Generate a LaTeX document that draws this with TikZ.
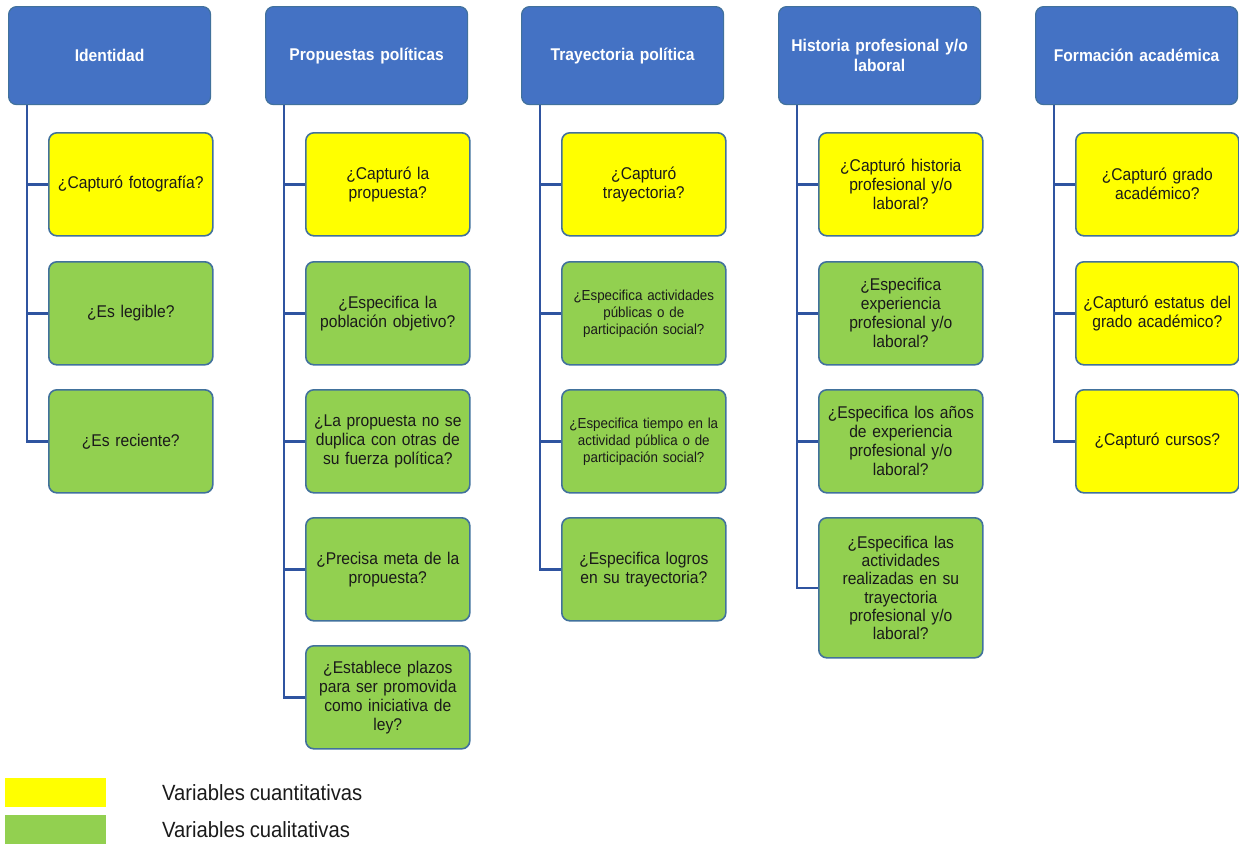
\documentclass[tikz,border=0pt]{standalone}
\usepackage{fontspec}
\setmainfont{Liberation Sans}[FakeStretch=0.92, WordSpace=0.85]
\definecolor{headfill}{HTML}{4472C4}
\definecolor{boxborder}{HTML}{41719C}
\definecolor{trunkcol}{HTML}{2F54A0}
\definecolor{qyellow}{HTML}{FFFF00}
\definecolor{qgreen}{HTML}{92D050}
\definecolor{qtext}{HTML}{1A1A1A}
\newcommand{\hfnt}{\fontsize{17}{20}\bfseries\selectfont}
\newcommand{\qfnt}{\fontsize{17}{19}\selectfont}
\newcommand{\sfnt}{\fontsize{14.5}{17}\selectfont}
\begin{document}
\begin{tikzpicture}[x=1pt,y=-1pt,
  head/.style={draw=boxborder, fill=headfill, rounded corners=8pt, line width=1.2pt,
    minimum width=202pt, minimum height=98pt, text width=196pt, align=center,
    text=white, font=\hfnt, anchor=north west, inner sep=0pt},
  qbox/.style={draw=boxborder, rounded corners=8pt, line width=1.6pt,
    minimum width=164pt, minimum height=103pt, text width=162pt, align=center,
    text=qtext, font=\qfnt, anchor=north west, inner sep=0pt},
  qy/.style={qbox, fill=qyellow},
  qg/.style={qbox, fill=qgreen},
  trunk/.style={draw=trunkcol, line width=2.4pt},
  legtext/.style={anchor=west, font=\fontsize{22}{24}\selectfont, text=qtext, inner sep=0pt}]
\useasboundingbox (0,0) rectangle (1239,844);

% headers
\node[head] (h1) at (8,6) {Identidad};
\node[head] (h2) at (265,6) {Propuestas políticas};
\node[head] (h3) at (521,6) {Trayectoria política};
\node[head] (h4) at (778,6) {Historia profesional y/o\\laboral};
\node[head] (h5) at (1035,6) {Formación académica};

% column 1
\node[qy] (c11) at (48,132) {¿Capturó fotografía?};
\node[qg] (c12) at (48,261) {¿Es legible?};
\node[qg] (c13) at (48,389) {¿Es reciente?};

% column 2
\node[qy] (c21) at (305,132) {¿Capturó la\\propuesta?};
\node[qg] (c22) at (305,261) {¿Especifica la\\población objetivo?};
\node[qg] (c23) at (305,389) {¿La propuesta no se\\duplica con otras de\\su fuerza política?};
\node[qg] (c24) at (305,517) {¿Precisa meta de la\\propuesta?};
\node[qg] (c25) at (305,645) {¿Establece plazos\\para ser promovida\\como iniciativa de\\ley?};

% column 3
\node[qy] (c31) at (561,132) {¿Capturó\\trayectoria?};
\node[qg, font=\sfnt] (c32) at (561,261) {¿Especifica actividades\\públicas o de\\participación social?};
\node[qg, font=\sfnt] (c33) at (561,389) {¿Especifica tiempo en la\\actividad pública o de\\participación social?};
\node[qg] (c34) at (561,517) {¿Especifica logros\\en su trayectoria?};

% column 4
\node[qy] (c41) at (818,132) {¿Capturó historia\\profesional y/o\\laboral?};
\node[qg] (c42) at (818,261) {¿Especifica\\experiencia\\profesional y/o\\laboral?};
\node[qg] (c43) at (818,389) {¿Especifica los años\\de experiencia\\profesional y/o\\laboral?};
\node[qg, minimum height=140pt, font=\fontsize{17}{18.3}\selectfont] (c44) at (818,517) {¿Especifica las\\actividades\\realizadas en su\\trayectoria\\profesional y/o\\laboral?};

% column 5
\node[qy, minimum width=163pt] (c51) at (1075,132) {¿Capturó grado\\académico?};
\node[qy, minimum width=163pt] (c52) at (1075,261) {¿Capturó estatus del\\grado académico?};
\node[qy, minimum width=163pt] (c53) at (1075,389) {¿Capturó cursos?};

% connectors
\foreach \h/\cs in {h1/{c11,c12,c13}, h2/{c21,c22,c23,c24,c25}, h3/{c31,c32,c33,c34}, h4/{c41,c42,c43,c44}, h5/{c51,c52,c53}}{
  \foreach \c in \cs {
    \draw[trunk] (\h.south west) ++(19,0) |- (\c.west);
  }
}

% legend
\fill[qyellow] (5,778) rectangle (106,807);
\fill[qgreen] (5,815) rectangle (106,844);
\node[legtext] (l1) at (162,793) {Variables cuantitativas};
\node[legtext] (l2) at (162,830) {Variables cualitativas};
\end{tikzpicture}
\end{document}
